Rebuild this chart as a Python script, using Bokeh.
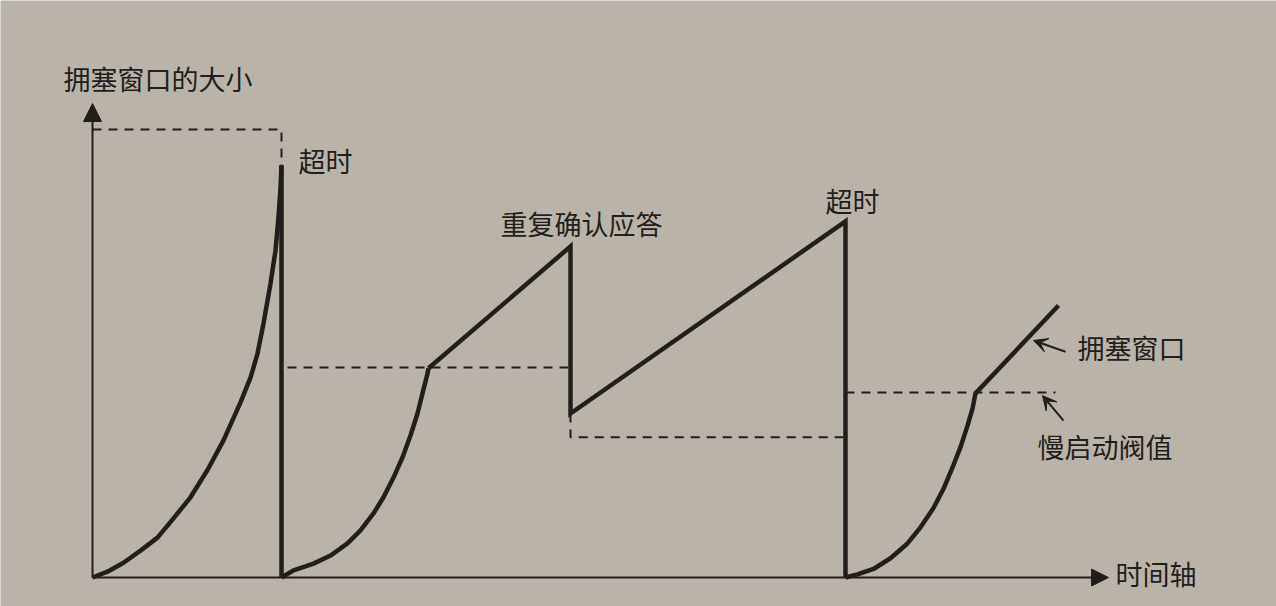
from bokeh.plotting import figure
from bokeh.models import Range1d, Arrow, VeeHead, NormalHead
from bokeh.core.properties import value
from bokeh.embed import file_html
from bokeh.resources import INLINE

# ---- data (time units, window-size units) ----
ss1_t = [0, 1.5, 3.1, 4.8, 6.5, 8.1, 9.8, 11.5, 13.1, 14.8, 15.8, 16.5, 17.1, 17.8, 18.3, 18.6, 18.8, 18.9]
ss1_w = [0, 1.3, 3.3, 6.0, 8.9, 13.2, 17.9, 24.0, 30.6, 39.1, 44.6, 50.0, 56.7, 65.6, 73.0, 80.4, 87.0, 92.0]
drop1_t = [18.9, 18.9]
drop1_w = [92.0, 0]

ss2_t = [18.9, 20.1, 22.1, 23.8, 25.5, 26.8, 28.1, 29.1, 30.1, 31.0, 31.8, 32.5, 33.0, 33.5, 33.6]
ss2_w = [0, 1.6, 3.1, 4.9, 7.6, 10.5, 14.3, 17.9, 22.3, 26.8, 31.7, 36.6, 41.1, 45.5, 46.7]
ca2_t = [33.6, 47.8, 47.8, 75.3, 75.3]
ca2_w = [46.7, 73.9, 36.6, 79.5, 0]

ss3_t = [75.3, 76.5, 78.1, 79.8, 81.5, 82.8, 84.1, 85.1, 86.1, 86.8, 87.5, 88.0, 88.3]
ss3_w = [0, 0.7, 1.9, 4.3, 7.6, 11.2, 15.5, 19.8, 25.1, 29.1, 33.9, 37.7, 41.1]
ca3_t = [88.3, 96.6]
ca3_w = [41.1, 60.7]

# slow-start thresholds (dashed)
th1_t = [0, 18.9, 18.9]
th1_w = [100, 100, 92.0]
th2_t = [19.5, 47.8]
th2_w = [46.9, 46.9]
th3_t = [47.8, 47.8, 75.3]
th3_w = [36.6, 31.3, 31.3]
th4_t = [75.3, 96.3]
th4_w = [41.3, 41.3]

label_text = ["拥塞窗口的大小", "超时", "重复确认应答", "超时", "拥塞窗口", "慢启动阀值", "时间轴"]
label_t = [-2.9, 20.6, 40.8, 73.3, 98.5, 94.5, 102.3]
label_w = [111.4, 93.1, 79.0, 84.2, 51.3, 29.2, 0.9]

BG = "#bab3aa"
INK = "#221e1c"
FONT = "Noto Sans CJK SC"

p = figure(width=1276, height=606, output_backend="svg", toolbar_location=None,
           x_axis_type=None, y_axis_type=None, min_border=0,
           x_range=Range1d(-9.2, 118.4), y_range=Range1d(-6.473, 128.795))
p.grid.visible = False
p.outline_line_color = None
p.background_fill_color = BG
p.border_fill_color = BG

# axes with arrow heads
p.add_layout(Arrow(end=NormalHead(size=18, fill_color=INK, line_color=INK),
                   x_start=0, y_start=0, x_end=0, y_end=105.8,
                   line_color=INK, line_width=2))
p.add_layout(Arrow(end=NormalHead(size=17, fill_color=INK, line_color=INK),
                   x_start=0, y_start=0, x_end=101.6, y_end=0,
                   line_color=INK, line_width=2))

# dashed thresholds
for tt, ww in [(th1_t, th1_w), (th2_t, th2_w), (th3_t, th3_w), (th4_t, th4_w)]:
    p.line(tt, ww, line_color=INK, line_width=2, line_dash="9 7")

# congestion window
for tt, ww in [(ss1_t, ss1_w), (ss2_t, ss2_w), (ss3_t, ss3_w)]:
    p.line(tt, ww, line_color=INK, line_width=4.5, line_join="round")
for tt, ww in [(drop1_t, drop1_w), (ca2_t, ca2_w), (ca3_t, ca3_w)]:
    p.line(tt, ww, line_color=INK, line_width=4.5, line_join="miter")

# labels
p.text(x=label_t, y=label_w, text=label_text, text_font=value(FONT),
       text_font_size="27px", text_color=INK, text_baseline="middle", text_align="left")

# pointer arrows
p.add_layout(Arrow(end=VeeHead(size=14, fill_color=INK, line_color=INK),
                   x_start=97.3, y_start=50.4, x_end=94.1, y_end=52.9,
                   line_color=INK, line_width=2))
p.add_layout(Arrow(end=VeeHead(size=14, fill_color=INK, line_color=INK),
                   x_start=97.1, y_start=35.0, x_end=95.0, y_end=40.6,
                   line_color=INK, line_width=2))

open("out.html", "w").write(file_html(p, INLINE))
